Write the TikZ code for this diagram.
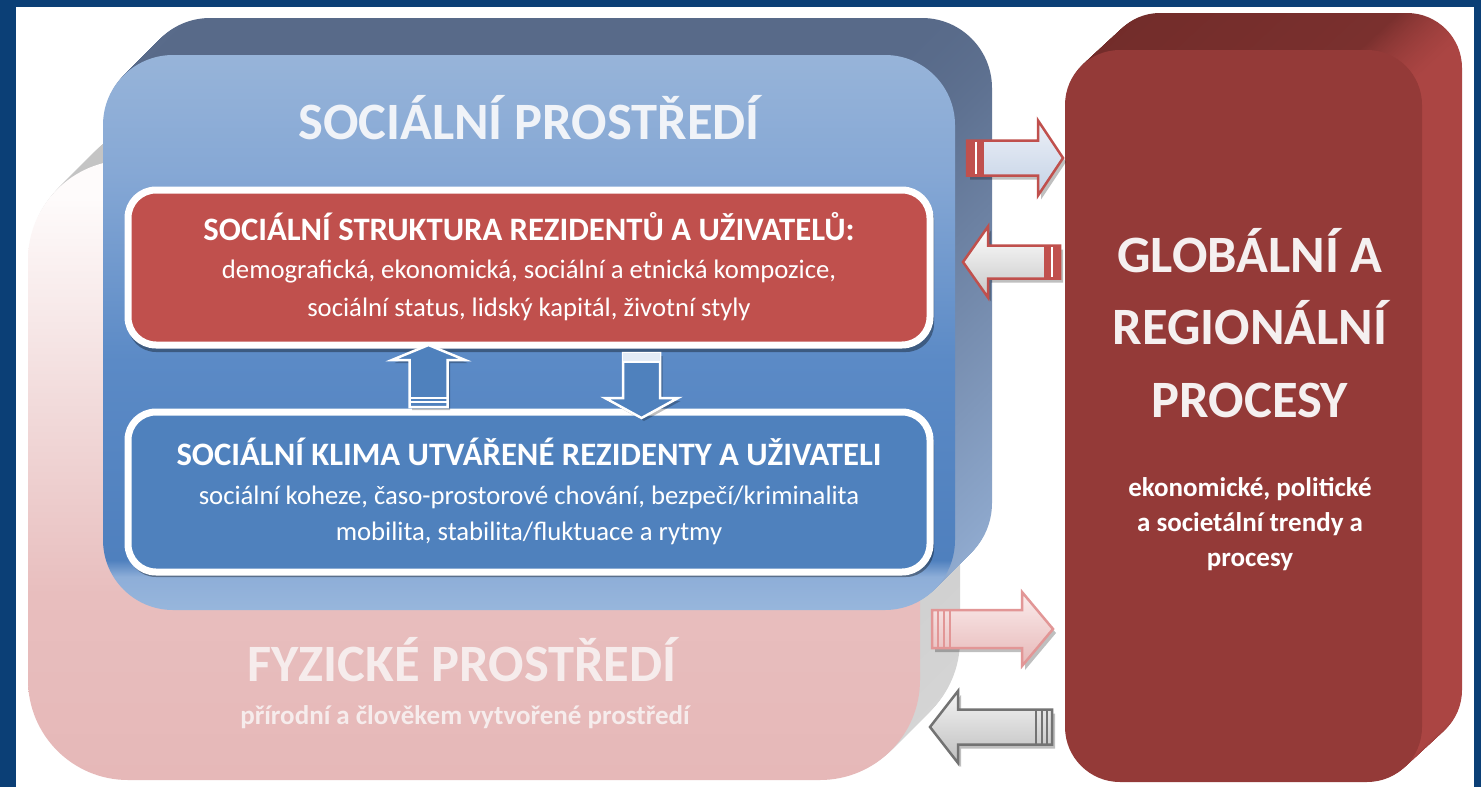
\documentclass[tikz,border=0pt]{standalone}
\usepackage{fontspec}
\setmainfont{Carlito}
\definecolor{navy}{HTML}{0B3F76}
\definecolor{redbox}{HTML}{C0504D}
\definecolor{bluebox}{HTML}{4F81BD}
\definecolor{darkred}{HTML}{943A38}
\definecolor{sb0}{HTML}{97B6DC}
\definecolor{sb1}{HTML}{8EAED8}
\definecolor{sb2}{HTML}{4F80BE}
\definecolor{sb3}{HTML}{5B8AC6}
\definecolor{sb4}{HTML}{86A8D5}
\definecolor{sb5}{HTML}{97B4D9}
\definecolor{pk0}{HTML}{E6B8B8}
\definecolor{pk1}{HTML}{E8BEBE}
\definecolor{pk2}{HTML}{F2DCDC}
\definecolor{pk3}{HTML}{FEFBFB}
\definecolor{slatetop}{HTML}{586A89}
\definecolor{slatebot}{HTML}{93AED3}
\definecolor{titlesoc}{HTML}{F0F3F8}
\definecolor{titlephys}{HTML}{F6ECEC}
\definecolor{titleglob}{HTML}{F5F0F0}
\definecolor{rb0}{HTML}{722C2A}
\definecolor{rb1}{HTML}{7A302E}
\definecolor{rb2}{HTML}{AB4543}
\definecolor{a1top}{HTML}{ECF0F7}
\definecolor{a1bot}{HTML}{C4D2E6}
\definecolor{a3top}{HTML}{FBECEC}
\definecolor{a3bot}{HTML}{E6B8B8}
\definecolor{a3line}{HTML}{E29696}
\definecolor{a4top}{HTML}{F4F4F4}
\definecolor{a4bot}{HTML}{BEBEBE}
\definecolor{downband}{HTML}{E4ECF6}
\definecolor{greytop}{HTML}{C4C4C4}
\definecolor{greybot}{HTML}{D6D6D6}
\pgfdeclareverticalshading{socshade}{100bp}{color(0bp)=(sb0); color(25bp)=(sb0); color(28bp)=(sb1); color(29.5bp)=(sb2); color(47.5bp)=(sb3); color(64.5bp)=(sb4); color(75bp)=(sb5); color(100bp)=(sb5)}
\pgfdeclareverticalshading{pinkshade}{100bp}{color(0bp)=(pk0); color(25bp)=(pk0); color(40bp)=(pk1); color(56bp)=(pk2); color(72bp)=(pk3); color(100bp)=(pk3)}
\pgfdeclarehorizontalshading{redside}{100bp}{color(0bp)=(rb0); color(25bp)=(rb0); color(66bp)=(rb1); color(74bp)=(rb2); color(100bp)=(rb2)}
\newcommand{\hblockarrow}[7]{%
  \path[#1] (#2,#5-#6) -- (#3,#5-#6) -- (#3,#5-#7) -- (#4,#5) -- (#3,#5+#7) -- (#3,#5+#6) -- (#2,#5+#6) -- cycle;}
\newcommand{\vblockarrow}[7]{%
  \path[#1] (#5-#6,#2) -- (#5-#6,#3) -- (#5-#7,#3) -- (#5,#4) -- (#5+#7,#3) -- (#5+#6,#3) -- (#5+#6,#2) -- cycle;}
\begin{document}
\begin{tikzpicture}[x=1pt,y=-1pt,
  bigtitle/.style={font=\bfseries\fontsize{52.5}{56}\selectfont, inner sep=0},
  boxtitle/.style={font=\bfseries\fontsize{32.7}{36}\selectfont, text=white, inner sep=0},
  boxbody/.style={font=\fontsize{26.7}{30}\selectfont, text=white, inner sep=0},
  sidebody/.style={font=\bfseries\fontsize{27}{30}\selectfont, text=white, inner sep=0},
  innerbox/.style={rounded corners=28, draw=white, line width=7, minimum width=802, minimum height=155},
  shadowbox/.style={rounded corners=28, fill=black, opacity=0.35, minimum width=806, minimum height=160},
  arrshadow/.style={fill=black, opacity=0.25},
]
\useasboundingbox (0,0) rectangle (1481,787);
\fill[navy] (0,0) rectangle (1481,787);
\fill[white] (16,7) rectangle (1474,787);

% physical environment: extrusion, then front face
\foreach \k in {40,39,...,1}
  \path[rounded corners=100, shading=axis, top color=greytop, bottom color=greybot, shift={(\k,-\k)}] (28,160) rectangle (920,780);
\node[rounded corners=100, minimum width=892, minimum height=620, shading=pinkshade, inner sep=0] (phys) at (474,470) {};

% social environment: extrusion, then front face
\foreach \k in {37,36,...,1}
  \path[rounded corners=70, shading=axis, top color=slatetop, bottom color=slatebot, shift={(\k,-\k)}] (103,55) rectangle (955,610);
\node[rounded corners=70, minimum width=852, minimum height=555, shading=socshade, inner sep=0] (soc) at (529,332.5) {};

\node[bigtitle, text=titlesoc] (socT) at (529,118) {SOCIÁLNÍ PROSTŘEDÍ};

% inner red box
\node[shadowbox] (structS) at (531,272) {};
\node[innerbox, fill=redbox] (struct) at (529,267.5) {};
\node[boxtitle] (structT) at (529,227) {SOCIÁLNÍ STRUKTURA REZIDENTŮ A UŽIVATELŮ:};
\node[boxbody] (structB1) at (529,272) {demografická, ekonomická, sociální a etnická kompozice,};
\node[boxbody] (structB2) at (529,309) {sociální status, lidský kapitál, životní styly};

% inner blue box
\node[shadowbox] (klimaS) at (531,497) {};
\node[innerbox, fill=bluebox, minimum height=160] (klima) at (529,492) {};
\node[boxtitle] (klimaT) at (529,452) {SOCIÁLNÍ KLIMA UTVÁŘENÉ REZIDENTY A UŽIVATELI};
\node[boxbody] (klimaB1) at (529,497) {sociální koheze, časo-prostorové chování, bezpečí/kriminalita};
\node[boxbody] (klimaB2) at (529,533) {mobilita, stabilita/fluktuace a rytmy};

% arrows between inner boxes
\vblockarrow{arrshadow}{410}{363}{348}{431}{19}{36.5}
\vblockarrow{fill=bluebox, draw=white, line width=2.5}{407}{360}{345}{428.5}{19}{36.5}
\draw[white, line width=2] (409.5,398) -- (447.5,398);
\draw[white, line width=2] (409.5,402) -- (447.5,402);
\vblockarrow{arrshadow}{356}{401}{421}{644}{18.5}{36.5}
\vblockarrow{fill=bluebox, draw=white, line width=2.5}{353}{398}{418}{641.5}{18.5}{36.5}
\fill[downband] (623,353) rectangle (660,361);
\draw[white, line width=2] (623,362) -- (660,362);

\node[bigtitle, text=titlephys] (physT) at (462,660) {FYZICKÉ PROSTŘEDÍ};
\node[sidebody, text=titlephys] (physB) at (465,717) {přírodní a člověkem vytvořené prostředí};

% global & regional processes: extrusion, then front face
\foreach \k in {40,39,...,1}
  \path[rounded corners=55, shading=redside, shift={(\k,-0.925*\k)}] (1065,50) rectangle (1422,782);
\node[rounded corners=55, minimum width=357, minimum height=732, fill=darkred, inner sep=0] (glob) at (1243.5,416) {};
\node[bigtitle, text=titleglob, align=center, font=\bfseries\fontsize{52.5}{72.5}\selectfont] (globT) at (1250,323) {GLOBÁLNÍ A\\REGIONÁLNÍ\\PROCESY};
\node[sidebody, align=center, font=\bfseries\fontsize{27}{35}\selectfont] (globB) at (1250,524) {ekonomické, politické\\a societální trendy a\\procesy};

% arrow 1: social -> global
\hblockarrow{arrshadow}{970}{1041}{1066}{162}{17.5}{37.5}
\hblockarrow{shading=axis, top color=a1top, bottom color=a1bot, draw=redbox, line width=2.5}{967}{1038}{1063}{158}{17.5}{37.5}
\fill[redbox] (967,140.5) rectangle (984,175.5);
\draw[white, line width=2.5] (976,142) -- (976,174);
% arrow 2: global -> social
\hblockarrow{arrshadow}{1063}{991}{966}{266}{16.5}{35.5}
\hblockarrow{shading=axis, top color=white, bottom color=black!22, draw=redbox, line width=2.5}{1060}{988}{963}{262}{16.5}{35.5}
\fill[redbox] (1044,245.5) rectangle (1060,278.5);
\draw[white, line width=2.5] (1052,247) -- (1052,277);
% arrow 3: physical -> global
\hblockarrow{arrshadow}{935}{1025}{1056}{633}{19}{37}
\hblockarrow{shading=axis, top color=a3top, bottom color=a3bot, draw=a3line, line width=2.5}{932}{1022}{1053}{629}{19}{37}
\draw[a3line, line width=2] (938,610) -- (938,648) (944,610) -- (944,648) (950,610) -- (950,648);
% arrow 4: global -> physical
\hblockarrow{arrshadow}{1055}{961}{933}{731}{17.5}{36}
\hblockarrow{shading=axis, top color=a4top, bottom color=a4bot, draw=black!55, line width=2.5}{1052}{958}{930}{727}{17.5}{36}
\draw[black!55, line width=2] (1036,709.5) -- (1036,744.5) (1042,709.5) -- (1042,744.5) (1047,709.5) -- (1047,744.5);
\end{tikzpicture}
\end{document}
